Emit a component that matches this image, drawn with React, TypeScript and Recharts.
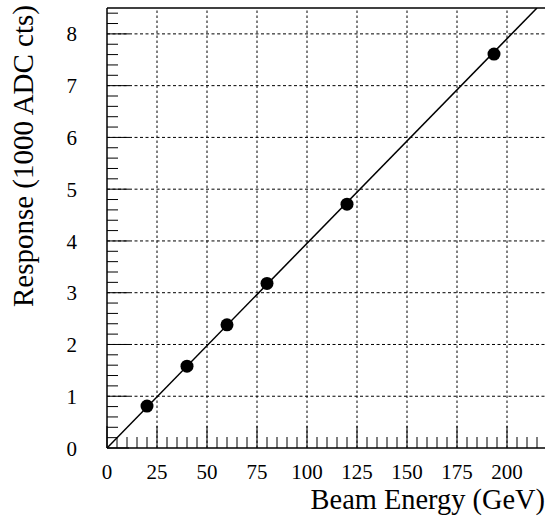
import React from 'react';
import { ComposedChart, Scatter, XAxis, YAxis, ReferenceLine } from 'recharts';

// Measured data points
const beamEnergy = [20, 40, 60, 80, 120, 193.5];
const response = [0.81, 1.58, 2.38, 3.18, 4.71, 7.61];
// Linear fit line endpoints (through origin)
const fitEnergy = [0, 215];
const fitResponse = [0, 8.5];

const xMajor = [0, 25, 50, 75, 100, 125, 150, 175, 200];
const xTickLabels = ['0', '25', '50', '75', '100', '125', '150', '175', '200'];
const yMajor = [0, 1, 2, 3, 4, 5, 6, 7, 8];
const yTickLabels = ['0', '1', '2', '3', '4', '5', '6', '7', '8'];

const X_DOMAIN: [number, number] = [0, 220];
const Y_DOMAIN: [number, number] = [0, 8.5];

const points = beamEnergy.map((x, i) => ({ x, y: response[i] }));
const fitLine = fitEnergy.map((x, i) => ({ x, y: fitResponse[i] }));

const xTicks: number[] = [];
for (let i = 0; i <= 44; i++) xTicks.push(i * 5);
const yTicks: number[] = [];
for (let i = 0; i <= 42; i++) yTicks.push(Math.round(i * 2) / 10);

const FONT = '"Liberation Serif", "DejaVu Serif", serif';
const MAJOR = 22;
const MINOR = 11;

const XTick = (props: any) => {
  const { x, y, payload } = props;
  const v = payload.value;
  const idx = xMajor.findIndex((m) => Math.abs(m - v) < 1e-6);
  const isMajor = idx >= 0;
  return (
    <g>
      <line x1={x} x2={x} y1={y} y2={y - (isMajor ? MAJOR : MINOR)} stroke="#000" strokeWidth={1} />
      {isMajor && (
        <text x={x} y={y + 31} textAnchor="middle" fontFamily={FONT} fontSize={21} fill="#000">
          {xTickLabels[idx]}
        </text>
      )}
    </g>
  );
};

const YTick = (props: any) => {
  const { x, y, payload } = props;
  const v = payload.value;
  const idx = yMajor.findIndex((m) => Math.abs(m - v) < 1e-6);
  const isMajor = idx >= 0;
  return (
    <g>
      <line x1={x} x2={x + (isMajor ? MAJOR : MINOR)} y1={y} y2={y} stroke="#000" strokeWidth={1} />
      {isMajor && (
        <text x={x - 30} y={y} dy="0.36em" textAnchor="end" fontFamily={FONT} fontSize={21} fill="#000">
          {yTickLabels[idx]}
        </text>
      )}
    </g>
  );
};

const Dot = (props: any) => {
  const { cx, cy } = props;
  return <circle cx={cx} cy={cy} r={6.5} fill="#000" />;
};

const NoDot = () => <g />;

export default function App() {
  return (
    <div style={{ position: 'absolute', left: 0, top: 0, width: 545, height: 520, overflow: 'hidden', background: '#fff' }}>
      <ComposedChart
        width={560}
        height={520}
        margin={{ left: 106, top: 8, right: 13, bottom: 71 }}
      >
        <XAxis
          type="number"
          dataKey="x"
          domain={X_DOMAIN}
          ticks={xTicks}
          interval={0}
          height={1}
          tickSize={0}
          tickMargin={0}
          tickLine={false}
          axisLine={{ stroke: '#000', strokeWidth: 1.5 }}
          tick={<XTick />}
          allowDataOverflow
        />
        <YAxis
          type="number"
          dataKey="y"
          domain={Y_DOMAIN}
          ticks={yTicks}
          interval={0}
          width={1}
          tickSize={0}
          tickMargin={0}
          tickLine={false}
          axisLine={{ stroke: '#000', strokeWidth: 1.5 }}
          tick={<YTick />}
          allowDataOverflow
        />
        {xMajor.filter((v) => v > 0).map((v) => (
          <ReferenceLine key={'vx' + v} x={v} stroke="#000" strokeWidth={1} strokeDasharray="2.5 2.5" />
        ))}
        {yMajor.filter((v) => v > 0).map((v) => (
          <ReferenceLine key={'hy' + v} y={v} stroke="#000" strokeWidth={1} strokeDasharray="3 2.5" />
        ))}
        <ReferenceLine y={Y_DOMAIN[1]} stroke="#000" strokeWidth={1.5} />
        <Scatter
          data={fitLine}
          line={{ stroke: '#000', strokeWidth: 1.5 }}
          shape={<NoDot />}
          isAnimationActive={false}
        />
        <Scatter data={points} shape={<Dot />} isAnimationActive={false} />
      </ComposedChart>
      <svg width={545} height={520} style={{ position: 'absolute', left: 0, top: 0, pointerEvents: 'none' }}>
        <text x={545} y={509} textAnchor="end" fontFamily={FONT} fontSize={28.4} fill="#000">
          Beam Energy (GeV)
        </text>
        <text transform="translate(33,5) rotate(-90)" textAnchor="end" fontFamily={FONT} fontSize={29} fill="#000">
          Response (1000 ADC cts)
        </text>
      </svg>
    </div>
  );
}
